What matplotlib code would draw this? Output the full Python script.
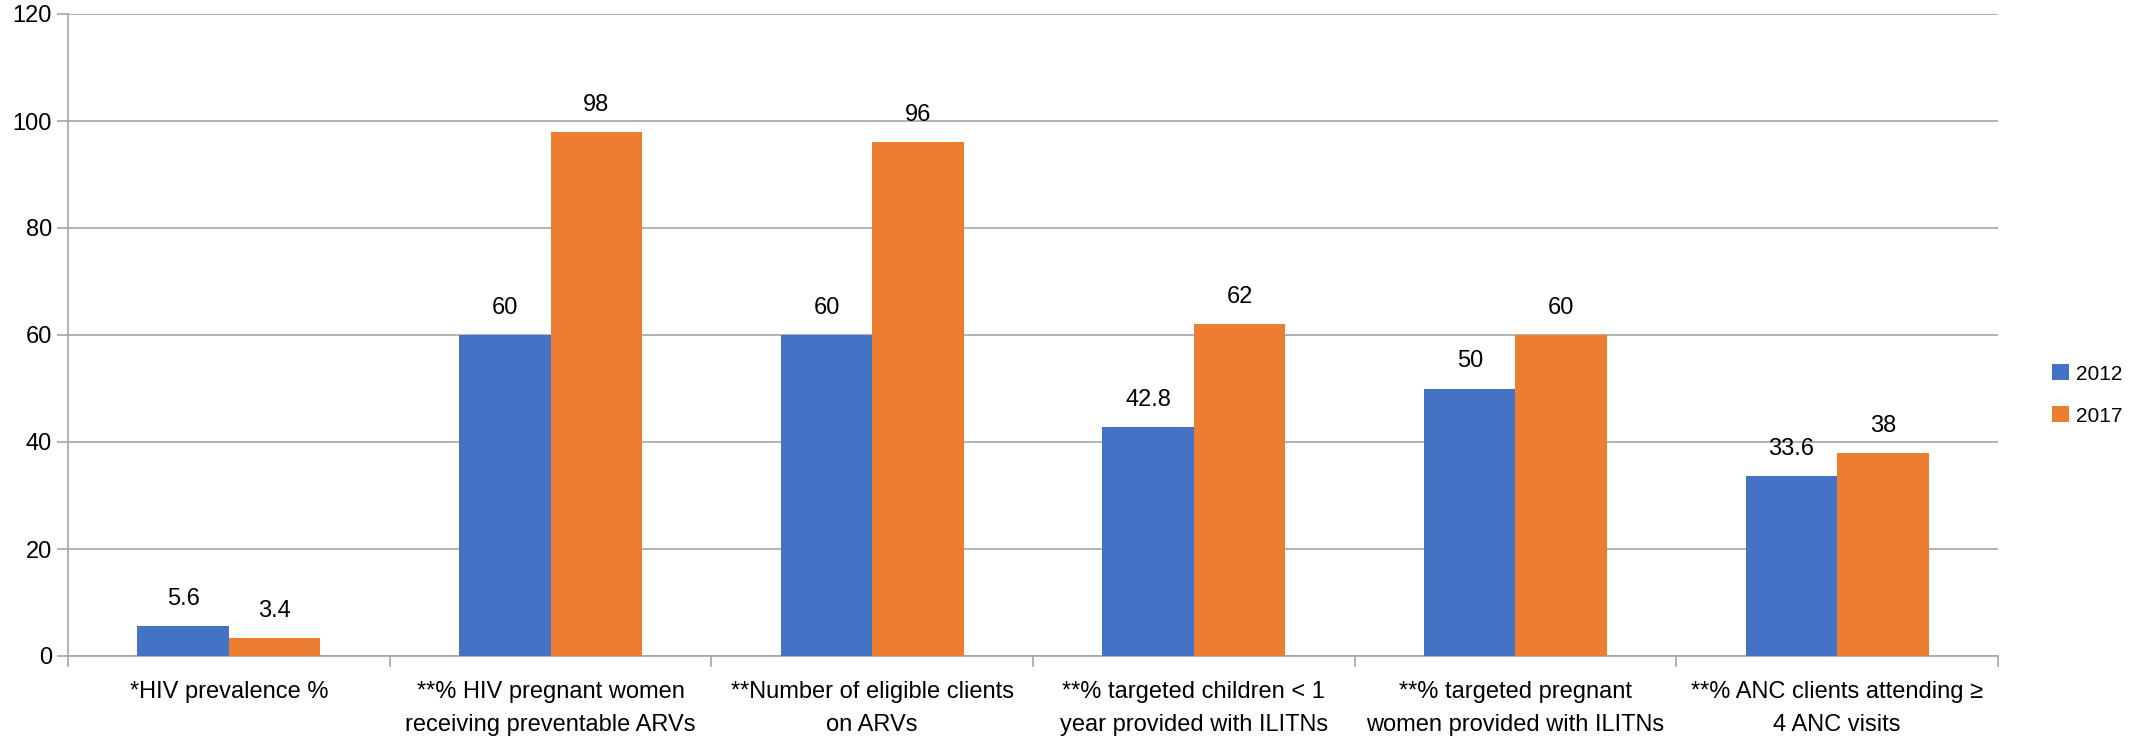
import matplotlib
matplotlib.use("Agg")
import matplotlib.pyplot as plt
import numpy as np

categories = ["*HIV prevalence %",
              "**% HIV pregnant women\nreceiving preventable ARVs",
              "**Number of eligible clients\non ARVs",
              "**% targeted children < 1\nyear provided with ILITNs",
              "**% targeted pregnant\nwomen provided with ILITNs",
              "**% ANC clients attending \u2265\n4 ANC visits"]
vals_2012 = [5.6, 60, 60, 42.8, 50, 33.6]
vals_2017 = [3.4, 98, 96, 62, 60, 38]
labels_2012 = ["5.6", "60", "60", "42.8", "50", "33.6"]
labels_2017 = ["3.4", "98", "96", "62", "60", "38"]
series_names = ["2012", "2017"]

plt.rcParams['font.family'] = ['Liberation Sans', 'DejaVu Sans']

fig = plt.figure(figsize=(21.31, 7.36), dpi=100)
ax = fig.add_axes([68/2131, 1-656/736, (1998-68)/2131, (656-14)/736])

x = np.arange(len(categories))
w = 0.284
b1 = ax.bar(x - w/2, vals_2012, w, color="#4472C4", label=series_names[0], zorder=3)
b2 = ax.bar(x + w/2, vals_2017, w, color="#ED7D31", label=series_names[1], zorder=3)

for rect, lab in zip(b1, labels_2012):
    ax.text(rect.get_x() + rect.get_width()/2, rect.get_height() + 3, lab,
            ha="center", va="bottom", fontsize=17)
for rect, lab in zip(b2, labels_2017):
    ax.text(rect.get_x() + rect.get_width()/2, rect.get_height() + 3, lab,
            ha="center", va="bottom", fontsize=17)

ax.set_xlim(-0.5, len(categories) - 0.5)
ax.set_ylim(0, 120)
ax.set_yticks(np.arange(0, 121, 20))
ax.tick_params(axis='y', labelsize=17, length=8, color="#A6A6A6", width=1.2)

ax.set_xticks(x)
ax.set_xticklabels(categories, fontsize=17, linespacing=1.65)
ax.set_xticks(np.arange(-0.5, len(categories), 1), minor=True)
ax.tick_params(axis='x', which='major', length=0, pad=18)
ax.tick_params(axis='x', which='minor', length=8, color="#A6A6A6", width=1.2)

ax.grid(axis='y', color="#A6A6A6", linewidth=1.2, zorder=0)
for s in ["top", "right"]:
    ax.spines[s].set_visible(False)
for s in ["left", "bottom"]:
    ax.spines[s].set_color("#A6A6A6")
    ax.spines[s].set_linewidth(1.2)

fig.legend(handles=[b1, b2], labels=series_names, loc="center left",
           bbox_to_anchor=(2052/2131, 1-395/736), frameon=False, borderpad=0,
           borderaxespad=0, fontsize=15, handlelength=0.8, handleheight=0.8,
           labelspacing=1.1, handletextpad=0.35)

fig.savefig("out.png", dpi=100)
